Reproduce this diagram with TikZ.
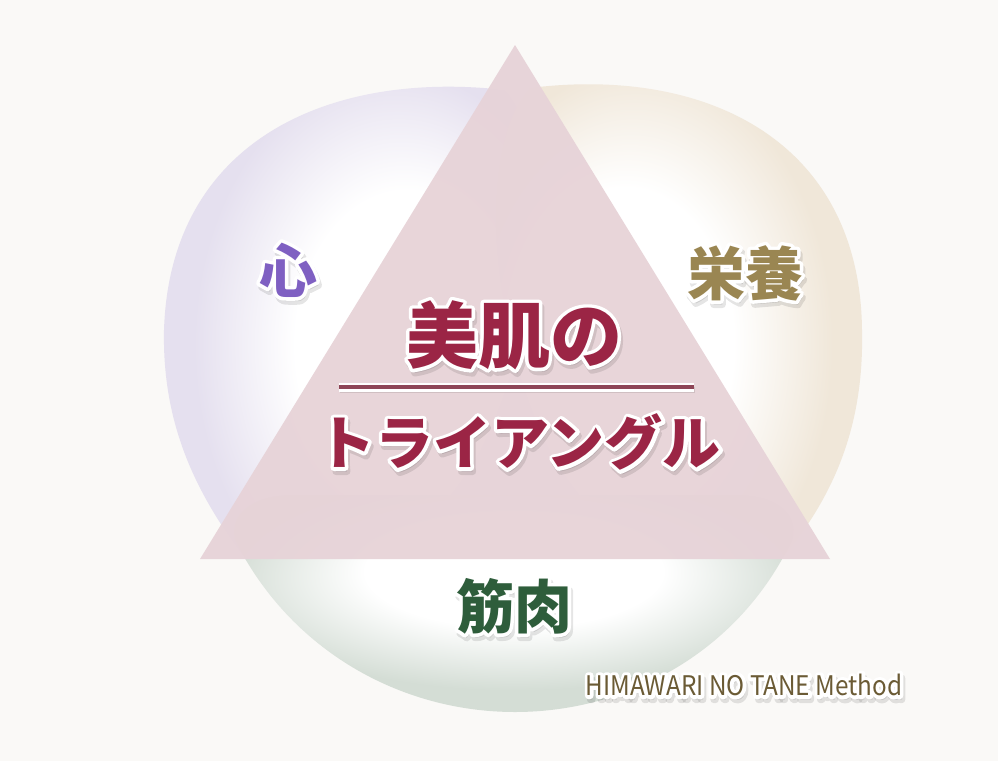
\documentclass[tikz,border=0pt]{standalone}
\usepackage{fontspec}
\newfontfamily\jpfont{Noto Sans CJK JP}
\definecolor{paper}{HTML}{FAF9F7}
\definecolor{lavrim}{HTML}{E5E0EF}
\definecolor{beigerim}{HTML}{F0E7D9}
\definecolor{greenrim}{HTML}{D4DDD5}
\definecolor{trifill}{HTML}{E7D3D8}
\definecolor{wine}{HTML}{9B2545}
\definecolor{winebar}{HTML}{8E4557}
\definecolor{violet}{HTML}{7F60C2}
\definecolor{olive}{HTML}{9A8652}
\definecolor{forest}{HTML}{2E5D3B}
\definecolor{bronze}{HTML}{6B5B35}
\pgfdeclareradialshading{lavblob}{\pgfpoint{8bp}{0bp}}{color(0bp)=(white); color(14bp)=(white); color(25bp)=(lavrim); color(50bp)=(lavrim)}
\pgfdeclareradialshading{beigeblob}{\pgfpoint{-8bp}{0bp}}{color(0bp)=(white); color(14bp)=(white); color(25bp)=(beigerim); color(50bp)=(beigerim)}
\pgfdeclareradialshading{greenblob}{\pgfpoint{0bp}{10bp}}{color(0bp)=(white); color(13bp)=(white); color(25bp)=(greenrim); color(50bp)=(greenrim)}
% stroked glyph outlines for the white rim
\newcommand\rimon[1]{\special{pdf:literal direct 2 Tr #1 w 1 j}}
\newcommand\rimoff{\special{pdf:literal direct 0 Tr}}
% text with white rim and soft shadow: name, place, style, text
\newcommand\halolabel[4]{%
  \node[#3, text=black, opacity=.1] at ([shift={(2,4)}]#2) {\rimon{7}#4\rimoff};
  \node[#3, text=white] at (#2) {\rimon{7}#4\rimoff};
  \node[#3] (#1) at (#2) {#4};}
\begin{document}
\begin{tikzpicture}[x=1pt, y=-1pt,
  bigword/.style={font=\jpfont\bfseries\fontsize{72}{72}\selectfont, text=wine, inner sep=0pt},
  kanaword/.style={font=\jpfont\bfseries\fontsize{58}{58}\selectfont, text=wine, inner sep=0pt},
  sideword/.style={font=\jpfont\bfseries\fontsize{58}{58}\selectfont, inner sep=0pt},
  tagline/.style={font=\jpfont\fontsize{27}{27}\selectfont, text=bronze, inner sep=0pt, xscale=.9}]
  \useasboundingbox (0,0) rectangle (998,761);
  \fill[paper] (0,0) rectangle (998,761);
  % three blobs
  \shade[shading=lavblob] (505,90) .. controls (330,70) and (170,140) .. (164,330)
    .. controls (162,430) and (200,500) .. (250,565) .. controls (300,620) and (420,560) .. (480,450)
    .. controls (540,330) and (560,150) .. (505,90) -- cycle;
  \shade[shading=beigeblob] (530,88) .. controls (705,66) and (860,140) .. (862,330)
    .. controls (864,420) and (838,490) .. (785,555) .. controls (730,620) and (610,560) .. (550,450)
    .. controls (490,330) and (475,150) .. (530,88) -- cycle;
  \shade[shading=greenblob] (235,540) .. controls (290,650) and (400,712) .. (515,712)
    .. controls (630,712) and (740,650) .. (792,540) .. controls (800,510) and (770,495) .. (740,495)
    -- (290,495) .. controls (260,495) and (228,510) .. (235,540) -- cycle;
  % triangle
  \coordinate (apex) at (515,45);
  \coordinate (baseL) at (200,559);
  \coordinate (baseR) at (830,559);
  \fill[trifill, opacity=.95] (apex) -- (baseL) -- (baseR) -- cycle;
  % labels
  \halolabel{heart}{288,270}{sideword, text=violet}{心}
  \halolabel{food}{745,273}{sideword, text=olive}{栄養}
  \halolabel{muscle}{514,606}{sideword, text=forest}{筋肉}
  \halolabel{skin}{514,335}{bigword}{美肌の}
  \coordinate (barL) at (339,387);
  \coordinate (barR) at (694,387);
  \draw[black, opacity=.1, line width=6] ([shift={(1,3)}]barL) -- ([shift={(1,3)}]barR);
  \draw[white, line width=9] (barL) -- (barR);
  \draw[winebar, line width=4.5] (barL) -- (barR);
  \halolabel{triangle}{519,442}{kanaword}{トライアングル}
  \halolabel{method}{744,685}{tagline}{HIMAWARI NO TANE Method}
\end{tikzpicture}
\end{document}
